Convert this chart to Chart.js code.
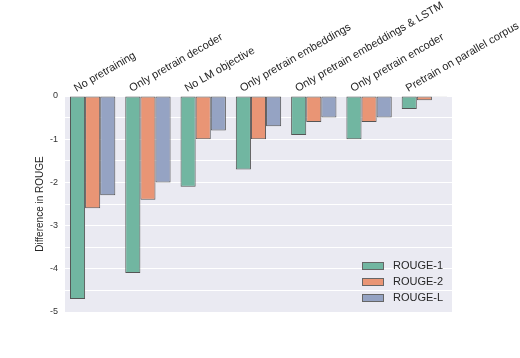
<!DOCTYPE html>
<html>
<head>
<meta charset="utf-8">
<script src="https://cdn.jsdelivr.net/npm/chart.js@4.4.1/dist/chart.umd.min.js"></script>
<style>
  html, body { margin: 0; padding: 0; background: #fff; }
  #wrap { width: 520px; height: 358px; }
</style>
</head>
<body>
<div id="wrap"><canvas id="chart" width="520" height="358"></canvas></div>
<script>
const categories = [
    'No pretraining',
    'Only pretrain decoder',
    'No LM objective',
    'Only pretrain embeddings',
    'Only pretrain embeddings & LSTM',
    'Only pretrain encoder',
    'Pretrain on parallel corpus'
];
const seriesNames = ['ROUGE-1', 'ROUGE-2', 'ROUGE-L'];
const rouge1 = [-4.7, -4.1, -2.1, -1.7, -0.9, -1.0, -0.3];
const rouge2 = [-2.6, -2.4, -1.0, -1.0, -0.6, -0.6, -0.1];
const rougeL = [-2.3, -2.0, -0.8, -0.7, -0.5, -0.5, -0.02];
const colors = ['#71b6a1', '#e99575', '#95a3c3'];

// legend sits inside the plot, bottom right
const insideLegend = {
    id: 'insideLegend',
    afterDraw(chart) {
        const ctx = chart.ctx;
        const area = chart.chartArea;
        ctx.save();
        ctx.font = '11px "Liberation Sans", Arial, sans-serif';
        ctx.textBaseline = 'middle';
        chart.data.datasets.forEach((ds, i) => {
            const y = area.bottom - 46 + i * 16;
            const x = area.right - 90;
            ctx.fillStyle = ds.backgroundColor;
            ctx.fillRect(x, y - 4, 22, 8);
            ctx.strokeStyle = '#666';
            ctx.lineWidth = 1;
            ctx.strokeRect(x + 0.5, y - 3.5, 21, 7);
            ctx.fillStyle = '#262626';
            ctx.fillText(ds.label, x + 31, y);
        });
        ctx.restore();
    }
};

const ctx = document.getElementById('chart').getContext('2d');
new Chart(ctx, {
    type: 'bar',
    data: {
        labels: categories,
        datasets: [rouge1, rouge2, rougeL].map((vals, i) => ({
            label: seriesNames[i],
            data: vals,
            backgroundColor: colors[i],
            borderColor: '#555',
            borderWidth: 1,
            borderSkipped: false,
            categoryPercentage: 0.82,
            barPercentage: 1.0
        }))
    },
    options: {
        responsive: false,
        animation: false,
        layout: { padding: { left: 0, right: 68, top: 0, bottom: 46 } },
        plugins: {
            legend: { display: false },
            tooltip: { enabled: false }
        },
        scales: {
            x: {
                position: 'top',
                grid: { display: false, drawTicks: false },
                border: { display: false },
                ticks: {
                    autoSkip: false,
                    minRotation: 30,
                    maxRotation: 30,
                    labelOffset: -11,
                    padding: 1,
                    color: '#262626',
                    font: { family: '"Liberation Sans", Arial, sans-serif', size: 11 }
                },
                afterFit(scale) {
                    scale.height = 96;
                    scale.paddingLeft = 0;
                    scale.paddingRight = 0;
                }
            },
            y: {
                min: -5,
                max: 0,
                grid: { color: '#ffffff', lineWidth: 1, drawTicks: false },
                border: { display: false },
                ticks: {
                    stepSize: 0.5,
                    padding: 7,
                    color: '#333',
                    font: { family: '"Liberation Sans", Arial, sans-serif', size: 9 },
                    callback: v => Number.isInteger(v) ? String(v) : ''
                },
                title: {
                    display: true,
                    text: 'Difference in ROUGE',
                    color: '#262626',
                    padding: { top: 34, bottom: 0 },
                    font: { family: '"Liberation Sans", Arial, sans-serif', size: 10 }
                },
                afterFit(scale) {
                    scale.width = 65;
                    scale.paddingTop = 0;
                    scale.paddingBottom = 0;
                }
            }
        }
    },
    plugins: [{
        id: 'plotBg',
        beforeDraw(chart) {
            const a = chart.chartArea;
            chart.ctx.save();
            chart.ctx.fillStyle = '#eaeaf2';
            chart.ctx.fillRect(a.left, a.top, a.right - a.left, a.bottom - a.top);
            chart.ctx.restore();
        }
    }, insideLegend]
});
</script>
</body>
</html>
